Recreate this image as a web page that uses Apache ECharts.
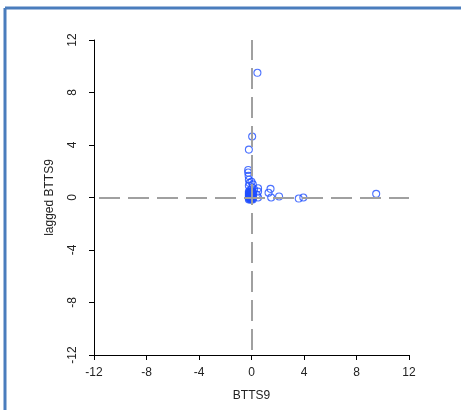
<!DOCTYPE html>
<html>
<head>
<meta charset="utf-8">
<script src="https://cdn.jsdelivr.net/npm/echarts@6/dist/echarts.min.js"></script>
<style>
  html, body { margin: 0; padding: 0; background: #fff; }
  #chart { width: 461px; height: 410px; }
</style>
</head>
<body>
<div id="chart"></div>
<script>
// BTTS9 against its one-step lag
const btts9 = [
  0.45, 0.05, -0.2, 9.5, 3.6, 3.95,
  1.45, 1.3, 1.5, 2.1,
  0.5, 0.5, 0.5, 0.4,
  -0.25, -0.25, -0.22, -0.2, -0.15, 0.0, 0.1, 0.05, -0.2, 0.2, -0.1,
  -0.2, -0.1, 0.0, 0.1, -0.2, -0.1, 0.0, 0.1, -0.2, -0.1, 0.0, 0.1,
  -0.2, -0.1, 0.0, 0.1, -0.2, -0.1, 0.0, 0.1, -0.2, -0.1, 0.0, 0.1,
  -0.2, -0.1, 0.0, 0.1, -0.15, -0.05, 0.05, -0.15, 0.05
];
const laggedBtts9 = [
  9.5, 4.65, 3.65, 0.28, -0.08, 0.0,
  0.66, 0.36, 0.0, 0.08,
  0.7, 0.45, 0.0, 0.2,
  2.1, 1.9, 1.65, 1.35, 1.1, 1.2, 1.0, 0.75, 0.9, 0.6, 0.55,
  -0.15, -0.15, -0.15, -0.15, -0.05, -0.05, -0.05, -0.05, 0.05, 0.05, 0.05, 0.05,
  0.15, 0.15, 0.15, 0.15, 0.25, 0.25, 0.25, 0.25, 0.35, 0.35, 0.35, 0.35,
  0.45, 0.45, 0.45, 0.45, 0.0, 0.1, 0.2, 0.3, 0.4
];
const axisTicks = [-12, -8, -4, 0, 4, 8, 12];

const points = btts9.map((v, i) => [v, laggedBtts9[i]]);

const textColor = '#222';
const font = 'Liberation Sans, Arial, sans-serif';

function axis(name, gap, labelMargin, rotate) {
  return {
    type: 'value',
    name: name,
    nameLocation: 'middle',
    nameGap: gap,
    nameTextStyle: { color: textColor, fontSize: 12, fontFamily: font },
    min: axisTicks[0],
    max: axisTicks[axisTicks.length - 1],
    interval: axisTicks[1] - axisTicks[0],
    axisLine: { show: true, onZero: false, lineStyle: { color: '#000', width: 1 } },
    axisTick: { show: true, inside: false, length: 5, lineStyle: { color: '#000', width: 1 } },
    axisLabel: { color: textColor, fontSize: 12, fontFamily: font, margin: labelMargin, rotate: rotate },
    splitLine: { show: false }
  };
}

const chart = echarts.init(document.getElementById('chart'));
chart.setOption({
  animation: false,
  backgroundColor: '#fff',
  grid: { left: 94, right: 52, top: 40, bottom: 55, containLabel: false },
  xAxis: axis('BTTS9', 35, 12, 0),
  yAxis: axis('lagged BTTS9', 38, 15, 90),
  series: [
    {
      // zero reference lines, kept beneath the points
      type: 'scatter',
      data: [],
      z: 1,
      markLine: {
        silent: true,
        symbol: 'none',
        label: { show: false },
        lineStyle: { color: '#a0a0a0', width: 2, type: [21, 8], dashOffset: -5 },
        data: [{ xAxis: 0 }, { yAxis: 0 }]
      }
    },
    {
      // open circles with a see-through fill
      type: 'scatter',
      data: points,
      symbol: 'circle',
      symbolSize: 7,
      itemStyle: { color: 'rgba(0,0,0,0)', borderColor: '#1f4fff', borderWidth: 1.1 },
      z: 3
    }
  ],
  graphic: [
    { type: 'line', shape: { x1: 5, y1: 8, x2: 461, y2: 8 }, style: { stroke: '#4a7dbd', lineWidth: 3 } },
    { type: 'line', shape: { x1: 5, y1: 8, x2: 5, y2: 410 }, style: { stroke: '#4a7dbd', lineWidth: 3 } }
  ]
});
</script>
</body>
</html>
